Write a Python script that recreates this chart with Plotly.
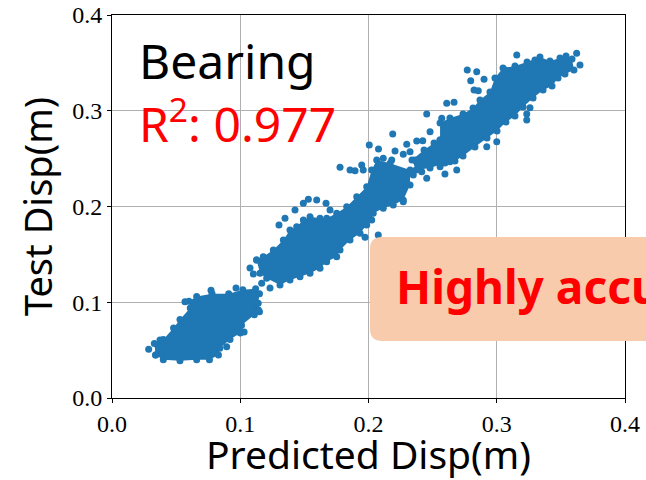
import plotly.graph_objects as go

# ---- data (Predicted Disp, Test Disp in m) ----
# dense core outlines of the three clusters (points on the cluster edge)
core1_x = [0.034, 0.040, 0.053, 0.066, 0.076, 0.083, 0.084, 0.092, 0.100, 0.103, 0.101, 0.111, 0.115,
           0.114, 0.115, 0.112, 0.102, 0.091, 0.078, 0.066, 0.060, 0.061, 0.053, 0.048, 0.040, 0.033]
core1_y = [0.045, 0.040, 0.039, 0.040, 0.040, 0.045, 0.052, 0.061, 0.068, 0.069, 0.076, 0.087, 0.090,
           0.099, 0.109, 0.114, 0.113, 0.109, 0.109, 0.106, 0.101, 0.094, 0.082, 0.073, 0.061, 0.057]

core2_x = [0.1128, 0.1154, 0.1206, 0.1310, 0.1388, 0.1466, 0.1544, 0.1622, 0.1674, 0.1752, 0.1778, 0.1856,
           0.1934, 0.1986, 0.2025, 0.2037, 0.2115, 0.2193, 0.2271, 0.2324, 0.2324, 0.2168, 0.2064, 0.2025,
           0.1986, 0.1908, 0.1830, 0.1752, 0.1674, 0.1622, 0.1544, 0.1492, 0.1440, 0.1388, 0.1336, 0.1258, 0.1180]
core2_y = [0.1441, 0.1302, 0.1250, 0.1180, 0.1232, 0.1267, 0.1302, 0.1355, 0.1423, 0.1476, 0.1546, 0.1650,
           0.1720, 0.1807, 0.1859, 0.1929, 0.1981, 0.2016, 0.2068, 0.2225, 0.2381, 0.2451, 0.2486, 0.2381,
           0.2207, 0.2102, 0.1998, 0.1929, 0.1877, 0.1877, 0.1893, 0.1859, 0.1789, 0.1755, 0.1650, 0.1546, 0.1476]

core3_x = [0.2558, 0.2558, 0.2635, 0.2737, 0.2815, 0.2869, 0.2947, 0.2986, 0.3049, 0.3142, 0.3236, 0.3337,
           0.3415, 0.3493, 0.3540, 0.3587, 0.3602, 0.3532, 0.3478, 0.3431, 0.3361, 0.3283, 0.3205, 0.3142,
           0.3072, 0.3002, 0.2924, 0.2830, 0.2737, 0.2674, 0.2596, 0.2480, 0.2370, 0.2339, 0.2433, 0.2511]
core3_y = [0.2695, 0.2872, 0.2924, 0.2966, 0.3029, 0.3112, 0.3196, 0.3342, 0.3446, 0.3467, 0.3509, 0.3561,
           0.3520, 0.3551, 0.3572, 0.3540, 0.3426, 0.3384, 0.3342, 0.3258, 0.3217, 0.3133, 0.3039, 0.2945,
           0.2882, 0.2789, 0.2715, 0.2621, 0.2527, 0.2475, 0.2454, 0.2402, 0.2381, 0.2486, 0.2590, 0.2663]

# individual scattered points
scatter_x = [0.0286, 0.0894, 0.1142, 0.1102, 0.1167, 0.1232, 0.1076, 0.1349, 0.1427, 0.1492, 0.1531, 0.1596,
             0.1669, 0.1700, 0.1302, 0.1973, 0.2076, 0.1778, 0.1856, 0.1895, 0.1947, 0.2006, 0.2078, 0.2189,
             0.2207, 0.2298, 0.2376, 0.2423, 0.2480, 0.2454, 0.2571, 0.2271, 0.2324, 0.2363, 0.2427, 0.2466,
             0.2519, 0.2454, 0.2596, 0.2688, 0.2415, 0.2349, 0.2271, 0.1959, 0.2115, 0.2181, 0.2558, 0.2635,
             0.2770, 0.2844, 0.2797, 0.2823, 0.2856, 0.2901, 0.2610, 0.2667, 0.3156, 0.3623, 0.3649, 0.3259,
             0.3234, 0.3234, 0.3000, 0.2922, 0.0569, 0.0772, 0.0967, 0.0374, 0.3298, 0.3064]
scatter_y = [0.0509, 0.0536, 0.0919, 0.1295, 0.1198, 0.1149, 0.1358, 0.1877, 0.1963, 0.2033, 0.2075, 0.2068,
             0.2033, 0.1963, 0.1807, 0.1678, 0.1702, 0.2409, 0.2381, 0.2374, 0.2433, 0.2642, 0.2600, 0.2757,
             0.2580, 0.2650, 0.2684, 0.2687, 0.2781, 0.2966, 0.2921, 0.2545, 0.2572, 0.2486, 0.2520, 0.2572,
             0.2486, 0.2295, 0.2339, 0.2381, 0.2363, 0.2329, 0.2050, 0.2381, 0.2503, 0.2486, 0.2416, 0.2468,
             0.3426, 0.3408, 0.3314, 0.3217, 0.3209, 0.3328, 0.3078, 0.3088, 0.3582, 0.3600, 0.3478, 0.3032,
             0.2966, 0.2903, 0.2677, 0.2625, 0.1006, 0.1125, 0.1149, 0.0606, 0.3530, 0.3426]

tick_vals = [0.0, 0.1, 0.2, 0.3, 0.4]
label_name = "Bearing"
r2_value = 0.977
note_text = "Highly accurate"

BLUE = "#1f77b4"
fig = go.Figure()
for cx, cy in [(core1_x, core1_y), (core2_x, core2_y), (core3_x, core3_y)]:
    fig.add_trace(go.Scatter(x=cx + [cx[0]], y=cy + [cy[0]], mode="markers", fill="toself",
                             fillcolor=BLUE, line=dict(width=0, color=BLUE),
                             marker=dict(size=7, color=BLUE), hoverinfo="skip"))
fig.add_trace(go.Scatter(x=scatter_x, y=scatter_y, mode="markers",
                         marker=dict(size=7, color=BLUE)))

axis_common = dict(range=[0, 0.4], tickvals=tick_vals, tickformat=".1f", automargin=False,
                   showline=True, linecolor="black", linewidth=1, mirror=True,
                   ticks="outside", ticklen=4, tickcolor="black",
                   showgrid=True, gridcolor="#b0b0b0", gridwidth=1, zeroline=False,
                   tickfont=dict(family="Liberation Serif", size=24, color="black"))
fig.update_xaxes(**axis_common, title=dict(text="Predicted Disp(m)", standoff=10,
                 font=dict(family="Noto Sans", size=39, color="black")))
fig.update_yaxes(**axis_common, title=dict(text="Test Disp(m)", standoff=7,
                 font=dict(family="Noto Sans", size=38, color="black")))

x0, x1, y0, y1 = 0.5029, 1.06, 0.1488, 0.4204
rx, ry = 0.0234, 0.0313
path = (f"M {x0+rx},{y0} L {x1-rx},{y0} Q {x1},{y0} {x1},{y0+ry} L {x1},{y1-ry} "
        f"Q {x1},{y1} {x1-rx},{y1} L {x0+rx},{y1} Q {x0},{y1} {x0},{y1-ry} "
        f"L {x0},{y0+ry} Q {x0},{y0} {x0+rx},{y0} Z")
fig.add_shape(type="path", path=path, xref="paper", yref="paper",
              fillcolor="#F8CBAD", line=dict(width=0), layer="above")

fig.add_annotation(text=label_name, xref="paper", yref="paper", x=0.048, y=0.882,
                   xanchor="left", yanchor="middle", showarrow=False,
                   font=dict(family="Noto Sans", size=48, color="black"))
fig.add_annotation(text=f"R<sup>2</sup>: {r2_value:.3f}", xref="paper", yref="paper", x=0.048, y=0.724,
                   xanchor="left", yanchor="middle", showarrow=False,
                   font=dict(family="Noto Sans", size=48, color="red"))
fig.add_annotation(text=f"<b>{note_text}</b>", xref="paper", yref="paper", x=0.549, y=0.2924,
                   xanchor="left", yanchor="middle", showarrow=False,
                   font=dict(family="Noto Sans", size=46, color="red"))

fig.update_layout(width=646, height=480, margin=dict(l=112, r=21, t=15, b=82),
                  paper_bgcolor="white", plot_bgcolor="white", showlegend=False)
fig.write_html("out.html")
